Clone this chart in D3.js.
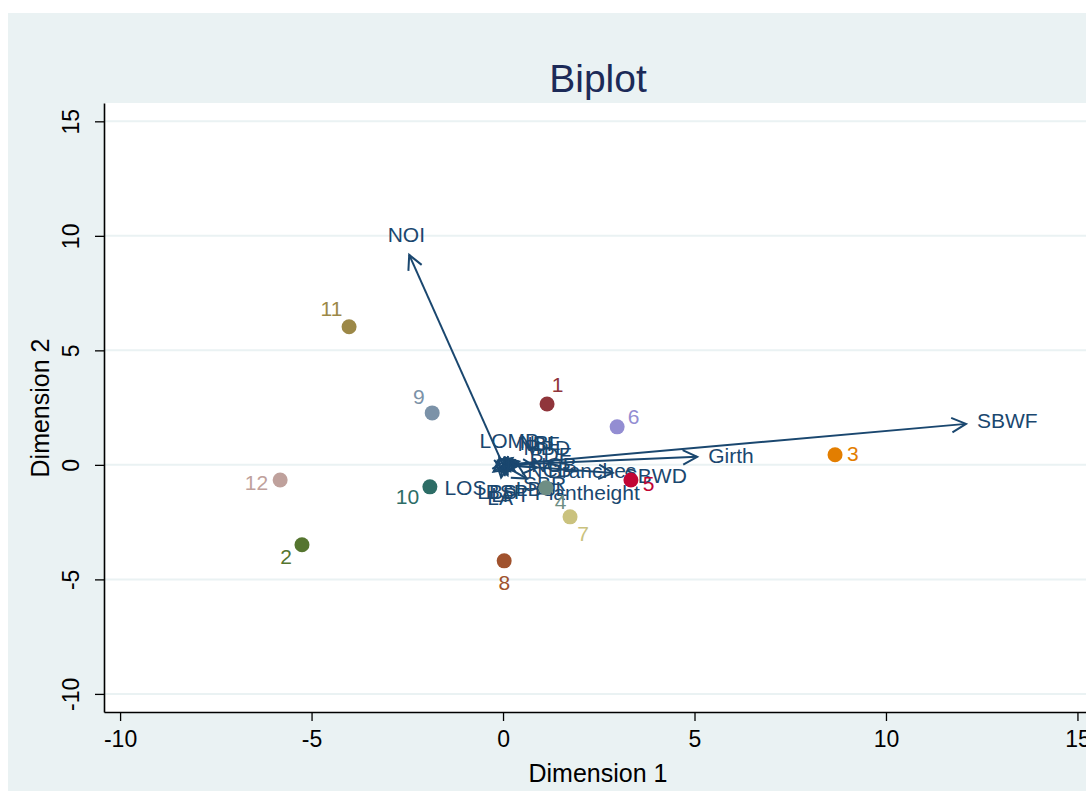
<!DOCTYPE html>
<html>
<head>
<meta charset="utf-8">
<script src="https://cdn.jsdelivr.net/npm/d3@7/dist/d3.min.js"></script>
<style>
  body { margin: 0; background: #fff; }
  svg { display: block; font-family: "Liberation Sans", Arial, sans-serif; }
</style>
</head>
<body>
<div id="chart"></div>
<script>
// Observations (scores)
var obsLabels = ["1", "2", "3", "4", "5", "6", "7", "8", "9", "10", "11", "12"],
  obsX = [1.15, -5.25, 8.67, 1.12, 3.34, 2.98, 1.75, 0.03, -1.85, -1.91, -4.02, -5.82],
  obsY = [2.66, -3.49, 0.44, -1.0, -0.66, 1.66, -2.27, -4.19, 2.27, -0.96, 6.03, -0.66];

// Variables (loadings)
var varLabels = ["NOI", "SBWF", "Girth", "SBWD", "Branches", "Plantheight",
    "LOMB", "NBL", "MBD", "BDF", "NBF", "NGB", "NCB",
    "LOS", "LBS", "BSP", "LBSL", "SBR", "LA", "LPT"],
  varX = [-2.45, 12.09, 5.07, 2.87, 0.88, 0.62,
    0.07, 0.25, 0.3, 0.42, 0.2, 0.45, 0.35,
    -0.25, -0.08, 0.05, 0.18, 0.3, -0.05, 0.12],
  varY = [9.17, 1.79, 0.35, -0.35, -0.12, -0.6,
    0.2, 0.3, 0.22, 0.15, 0.25, 0.0, -0.06,
    -0.3, -0.3, -0.3, -0.28, -0.25, -0.55, -0.45];

var xTicks = [-10, -5, 0, 5, 10, 15],
  yTicks = [-10, -5, 0, 5, 10, 15];

// Stata s2color palette for the observation markers
var palette = ["#90353b", "#55752f", "#e37e00", "#6e8e84", "#c10534", "#938dd2",
  "#cac27e", "#a0522d", "#7b92a8", "#2d6d66", "#9c8847", "#bfa19c"];

var width = 1086,
  height = 791,
  margin = {left: 104, right: 1092, top: 103, bottom: 712},
  navy = "#1a476f",
  bg = "#eaf2f3";

var svg = d3.select("#chart").append("svg")
  .attr("width", width)
  .attr("height", height);

// Graph region background
svg.append("rect")
  .attr("x", 8).attr("y", 13)
  .attr("width", width - 8).attr("height", height - 13)
  .attr("fill", bg);

// Plot region
svg.append("rect")
  .attr("x", margin.left).attr("y", margin.top)
  .attr("width", margin.right - margin.left)
  .attr("height", margin.bottom - margin.top)
  .attr("fill", "#fff");

var x = d3.scaleLinear()
  .domain([-10.42, 15.38])
  .range([margin.left, margin.right]);

var y = d3.scaleLinear()
  .domain([-10.79, 15.8])
  .range([margin.bottom, margin.top]);

// Horizontal grid lines
svg.append("g").selectAll("line")
  .data(yTicks)
  .enter().append("line")
  .attr("x1", margin.left).attr("x2", margin.right)
  .attr("y1", d => y(d)).attr("y2", d => y(d))
  .attr("stroke", bg)
  .attr("stroke-width", 2);

// Axes (plain hyphen for negatives, like Stata)
var fmt = d => String(d);

var xAxis = svg.append("g")
  .attr("transform", "translate(0," + margin.bottom + ")")
  .call(d3.axisBottom(x).tickValues(xTicks).tickFormat(fmt)
    .tickSize(9).tickPadding(10).tickSizeOuter(0));

var yAxis = svg.append("g")
  .attr("transform", "translate(" + margin.left + ",0)")
  .call(d3.axisLeft(y).tickValues(yTicks).tickFormat(fmt)
    .tickSize(9).tickPadding(10).tickSizeOuter(0));

[xAxis, yAxis].forEach(function (a) {
  a.select(".domain").attr("stroke", "#000").attr("stroke-width", 1.6);
  a.selectAll(".tick line").attr("stroke", "#000").attr("stroke-width", 1.3);
  a.selectAll(".tick text")
    .attr("fill", "#000")
    .style("font-size", "23px");
});

// Rotated y tick labels
yAxis.selectAll(".tick text")
  .attr("text-anchor", "middle")
  .attr("transform", "translate(-33,0) rotate(-90)")
  .attr("x", 0).attr("dy", "0.35em");

// Titles
svg.append("text")
  .attr("x", 598).attr("y", 92)
  .attr("text-anchor", "middle")
  .attr("fill", "#1c2a58")
  .style("font-size", "39px")
  .text("Biplot");

svg.append("text")
  .attr("x", 598).attr("y", 782)
  .attr("text-anchor", "middle")
  .attr("fill", "#000")
  .style("font-size", "25px")
  .text("Dimension 1");

svg.append("text")
  .attr("transform", "translate(49,408) rotate(-90)")
  .attr("text-anchor", "middle")
  .attr("fill", "#000")
  .style("font-size", "25px")
  .text("Dimension 2");

// Place a label radially outward from a point (as Stata's biplot does).
function placeLabel(sel, px, py, r, fs) {
  var ang = Math.atan2(py, px),
    c = Math.cos(ang),
    s = Math.sin(ang);
  sel.attr("x", x(px) + r * c)
    .attr("y", y(py) - r * s - s * fs * 0.45 + fs * 0.35)
    .attr("text-anchor", c > 0.38 ? "start" : (c < -0.38 ? "end" : "middle"));
}

// Variable arrows
var arrows = svg.append("g").attr("class", "arrows");
var headLen = 16,
  headAng = 27 * Math.PI / 180;

varLabels.forEach(function (lab, i) {
  var x0 = x(0), y0 = y(0),
    x1 = x(varX[i]), y1 = y(varY[i]),
    a = Math.atan2(y1 - y0, x1 - x0);

  arrows.append("line")
    .attr("x1", x0).attr("y1", y0)
    .attr("x2", x1).attr("y2", y1)
    .attr("stroke", navy).attr("stroke-width", 2);

  arrows.append("path")
    .attr("d", "M" + (x1 - headLen * Math.cos(a - headAng)) + "," + (y1 - headLen * Math.sin(a - headAng)) +
      "L" + x1 + "," + y1 +
      "L" + (x1 - headLen * Math.cos(a + headAng)) + "," + (y1 - headLen * Math.sin(a + headAng)))
    .attr("fill", "none")
    .attr("stroke", navy).attr("stroke-width", 2);

  arrows.append("text")
    .attr("fill", navy)
    .style("font-size", "21px")
    .text(lab)
    .call(placeLabel, varX[i], varY[i], 11, 21);
});

// Observation markers
var obs = svg.append("g").attr("class", "obs");

obs.selectAll("circle")
  .data(obsLabels)
  .enter().append("circle")
  .attr("cx", (d, i) => x(obsX[i]))
  .attr("cy", (d, i) => y(obsY[i]))
  .attr("r", 7.5)
  .attr("fill", (d, i) => palette[i]);

obs.selectAll("text")
  .data(obsLabels)
  .enter().append("text")
  .attr("fill", (d, i) => palette[i])
  .style("font-size", "21px")
  .text(d => d)
  .each(function (d, i) {
    d3.select(this).call(placeLabel, obsX[i], obsY[i], 12, 21);
  });
</script>
</body>
</html>
